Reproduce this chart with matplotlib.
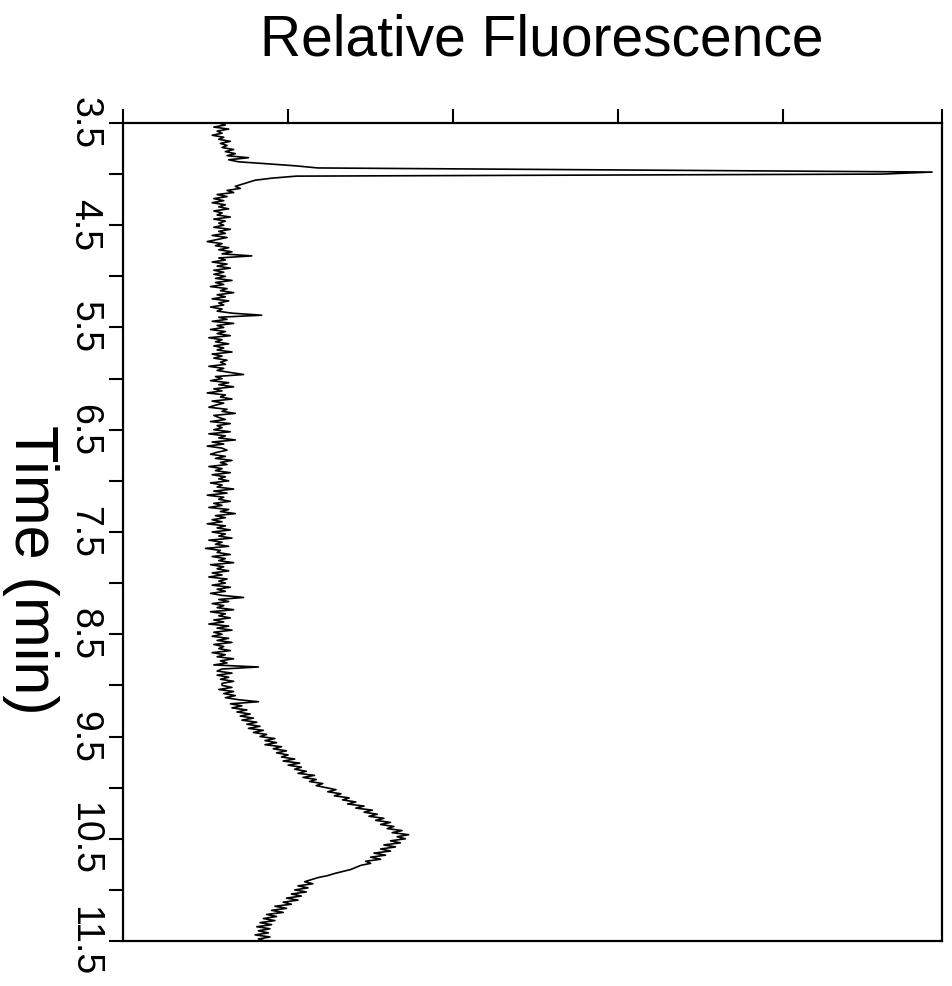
import numpy as np
import matplotlib
matplotlib.use("Agg")
import matplotlib.pyplot as plt

plt.rcParams['font.family'] = ['Liberation Sans', 'DejaVu Sans']

# elution time window (min) and sampling step of the detector trace
t_start = 3.5
t_end = 11.5

# relative fluorescence, one row per 0.5 min (0.02 min steps)
fluor_rows = [
    [0.58, 0.62, 0.55, 0.64, 0.57, 0.60, 0.54, 0.61, 0.58, 0.65, 0.59, 0.63, 0.60,
     0.67, 0.62, 0.68, 0.63, 0.76, 0.64, 0.70, 0.88, 1.05, 1.18, 3.00, 4.90],
    [4.60, 1.05, 0.90, 0.80, 0.76, 0.72, 0.68, 0.71, 0.63, 0.67, 0.57, 0.63, 0.55,
     0.61, 0.54, 0.62, 0.58, 0.64, 0.55, 0.60, 0.57, 0.65, 0.55, 0.62, 0.58],
    [0.61, 0.55, 0.65, 0.58, 0.62, 0.54, 0.63, 0.57, 0.51, 0.60, 0.56, 0.64, 0.58,
     0.66, 0.60, 0.78, 0.58, 0.62, 0.54, 0.63, 0.57, 0.65, 0.55, 0.61, 0.55],
    [0.62, 0.56, 0.66, 0.56, 0.61, 0.53, 0.63, 0.59, 0.67, 0.57, 0.62, 0.54, 0.64,
     0.58, 0.61, 0.53, 0.60, 0.57, 0.66, 0.84, 0.58, 0.63, 0.54, 0.67, 0.57],
    [0.61, 0.53, 0.62, 0.57, 0.65, 0.52, 0.60, 0.56, 0.64, 0.55, 0.61, 0.57, 0.66,
     0.54, 0.60, 0.55, 0.63, 0.59, 0.62, 0.52, 0.61, 0.57, 0.65, 0.73, 0.56],
    [0.60, 0.53, 0.64, 0.58, 0.67, 0.55, 0.60, 0.51, 0.62, 0.59, 0.66, 0.54, 0.61,
     0.56, 0.52, 0.63, 0.60, 0.68, 0.55, 0.58, 0.62, 0.53, 0.65, 0.57, 0.60],
    [0.55, 0.65, 0.52, 0.62, 0.58, 0.68, 0.54, 0.61, 0.51, 0.60, 0.63, 0.57, 0.53,
     0.62, 0.56, 0.66, 0.59, 0.63, 0.52, 0.60, 0.56, 0.65, 0.54, 0.62, 0.58],
    [0.64, 0.53, 0.60, 0.57, 0.67, 0.55, 0.63, 0.51, 0.61, 0.58, 0.65, 0.55, 0.60,
     0.52, 0.64, 0.59, 0.68, 0.56, 0.62, 0.54, 0.60, 0.51, 0.62, 0.57, 0.65],
    [0.54, 0.62, 0.58, 0.66, 0.52, 0.60, 0.56, 0.64, 0.50, 0.59, 0.57, 0.65, 0.54,
     0.62, 0.58, 0.67, 0.53, 0.61, 0.57, 0.64, 0.54, 0.60, 0.52, 0.63, 0.58],
    [0.62, 0.54, 0.65, 0.57, 0.62, 0.53, 0.60, 0.73, 0.58, 0.64, 0.54, 0.61, 0.57,
     0.67, 0.53, 0.62, 0.58, 0.65, 0.55, 0.61, 0.52, 0.64, 0.57, 0.66, 0.55],
    [0.60, 0.54, 0.64, 0.57, 0.66, 0.55, 0.61, 0.58, 0.65, 0.54, 0.62, 0.57, 0.67,
     0.59, 0.63, 0.55, 0.82, 0.60, 0.57, 0.66, 0.57, 0.64, 0.59, 0.67, 0.60],
    [0.60, 0.66, 0.58, 0.67, 0.61, 0.68, 0.62, 0.70, 0.82, 0.65, 0.72, 0.66, 0.75,
     0.69, 0.77, 0.71, 0.79, 0.72, 0.81, 0.75, 0.83, 0.76, 0.85, 0.79, 0.87],
    [0.83, 0.92, 0.86, 0.93, 0.86, 0.96, 0.91, 0.99, 0.93, 1.00, 0.96, 1.04, 0.97,
     1.07, 1.00, 1.08, 1.04, 1.11, 1.06, 1.16, 1.09, 1.17, 1.13, 1.21, 1.17],
    [1.23, 1.29, 1.24, 1.32, 1.28, 1.37, 1.33, 1.41, 1.36, 1.46, 1.41, 1.51, 1.46,
     1.54, 1.49, 1.58, 1.53, 1.62, 1.56, 1.64, 1.60, 1.69, 1.63, 1.73, 1.66],
    [1.71, 1.62, 1.68, 1.58, 1.65, 1.56, 1.62, 1.52, 1.59, 1.50, 1.56, 1.47, 1.50,
     1.44, 1.41, 1.38, 1.33, 1.28, 1.24, 1.18, 1.14, 1.10, 1.15, 1.06, 1.12],
    [1.04, 1.11, 1.02, 1.08, 0.99, 1.06, 0.97, 1.02, 0.92, 0.99, 0.90, 0.97, 0.87,
     0.93, 0.85, 0.92, 0.83, 0.90, 0.81, 0.89, 0.82, 0.88, 0.80, 0.89, 0.82, 0.86],
]

fluor = np.concatenate([np.array(r) for r in fluor_rows])
time = np.linspace(t_start, t_end, len(fluor))

x_max = 4.96

fig = plt.figure(figsize=(9.52, 9.86), dpi=100)
ax = fig.add_axes([0.1292, 0.0456, 0.8603, 0.8297])

ax.plot(fluor, time, color='black', lw=1.2)

ax.set_ylim(t_end, t_start)
ax.set_xlim(0, x_max)

# top axis carries the unlabeled fluorescence ticks
ax.xaxis.tick_top()
ax.set_xticks([0, 1, 2, 3, 4, x_max])
ax.set_xticklabels([])

ax.set_yticks(np.arange(3.5, 11.6, 1.0))
ax.set_yticks(np.arange(4.0, 11.1, 1.0), minor=True)
ax.set_yticklabels([f"{v:.1f}" for v in np.arange(3.5, 11.6, 1.0)],
                   rotation=-90, fontsize=27, va='center')

ax.tick_params(axis='both', which='both', direction='out', length=10, width=1.5)
ax.tick_params(axis='y', pad=5)
for s in ax.spines.values():
    s.set_linewidth(1.6)

fig.text(542 / 952, 1 - 40 / 986, 'Relative Fluorescence', fontsize=41,
         ha='center', va='center')
fig.text(30 / 952, 1 - 570 / 986, 'Time (min)', fontsize=44,
         ha='center', va='center', rotation=-90)

fig.savefig('out.png', dpi=100)
